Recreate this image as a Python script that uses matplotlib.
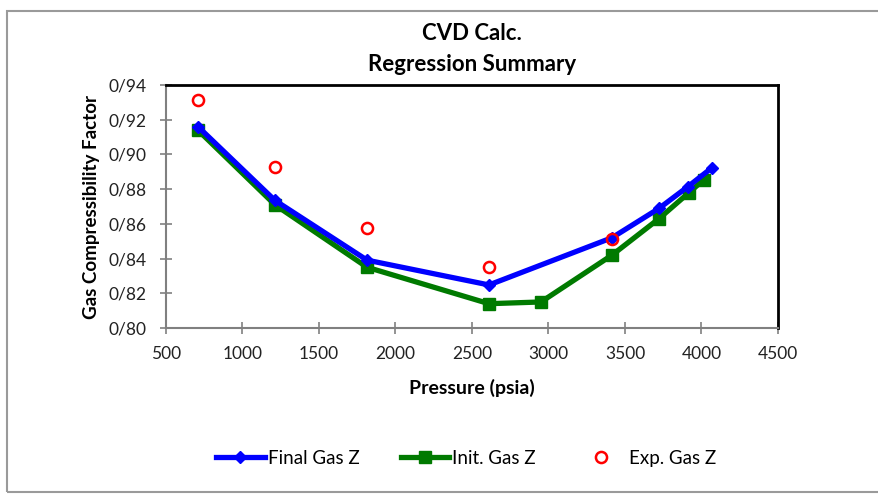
import matplotlib
matplotlib.use("Agg")
import matplotlib.pyplot as plt
from matplotlib.ticker import FuncFormatter
from matplotlib.patches import Rectangle

plt.rcParams['font.family'] = ['Lato', 'DejaVu Sans']

# data
final_p = [709, 1212, 1814, 2611, 3415, 3722, 3912, 4069]
final_z = [0.9160, 0.8735, 0.8391, 0.8248, 0.8520, 0.8689, 0.8815, 0.8924]

init_p = [709, 1212, 1814, 2611, 2951, 3415, 3722, 3918, 4016]
init_z = [0.9140, 0.8710, 0.8350, 0.8140, 0.8150, 0.8420, 0.8630, 0.8780, 0.8855]

exp_p = [709, 1212, 1814, 2611, 3415]
exp_z = [0.9314, 0.8930, 0.8575, 0.8350, 0.8515]

fig = plt.figure(figsize=(8.79, 4.94), dpi=100)
# outer chart border
fig.patches.append(Rectangle((7/879, 2/494), 1.0, 481/494, transform=fig.transFigure,
                             fill=False, edgecolor='#9a9a9a', linewidth=1.5))

ax = fig.add_axes([166/879, 1 - 328/494, 612/879, 243/494])

ax.plot(final_p, final_z, color='#0000ff', linewidth=3.8, marker='D', markersize=6,
        label='Final Gas Z', zorder=3)
ax.plot(init_p, init_z, color='#007a00', linewidth=3.8, marker='s', markersize=8,
        label='Init. Gas Z', zorder=2)
ax.plot(exp_p, exp_z, linestyle='none', marker='o', markersize=8, markerfacecolor='none',
        markeredgecolor='#ff0000', markeredgewidth=1.8, label='Exp. Gas Z', zorder=4)

ax.set_xlim(500, 4500)
ax.set_ylim(0.80, 0.94)
ax.set_xticks(range(500, 4501, 500))
ax.set_yticks([0.80, 0.82, 0.84, 0.86, 0.88, 0.90, 0.92, 0.94])
ax.yaxis.set_major_formatter(FuncFormatter(lambda v, p: f"{v:.2f}".replace('.', '/')))

for s in ['top', 'right']:
    ax.spines[s].set_color('black')
    ax.spines[s].set_linewidth(2)
for s in ['left', 'bottom']:
    ax.spines[s].set_color('#808080')
    ax.spines[s].set_linewidth(1.5)
ax.tick_params(direction='inout', length=8, width=1.2, color='#808080',
               labelsize=12.5, labelcolor='#222222')
ax.tick_params(axis='x', pad=9)
ax.tick_params(axis='y', pad=10)

ax.set_xlabel('Pressure (psia)', fontsize=14, fontweight='bold', labelpad=12)
ax.set_ylabel('Gas Compressibility Factor', fontsize=13.5, fontweight='bold', labelpad=6)
ax.set_title('CVD Calc.\nRegression Summary', fontsize=16, fontweight='bold',
             linespacing=1.6, pad=10)

fig.legend(loc='center', bbox_to_anchor=(466/879, 1 - 458/494), ncol=3, frameon=False,
           fontsize=13.5, handlelength=2.6, columnspacing=2.2, handletextpad=0.15)

fig.savefig('out.png', dpi=100)
